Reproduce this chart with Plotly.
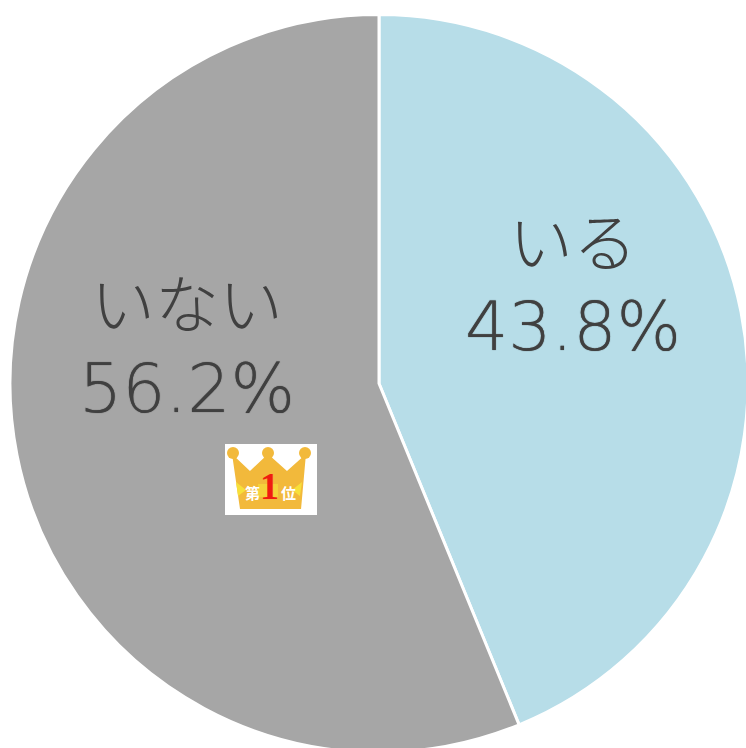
import plotly.graph_objects as go

categories = ["いる", "いない"]
values = [43.8, 56.2]
colors = ["#b7dde8", "#a6a6a6"]
percent_labels = ["43.8%", "56.2%"]
crown_labels = ["第", "1", "位"]

W = H = 760          # canvas is a bit larger than the window: the pie runs off the page
def px(x): return x / W
def py(y): return 1 - y / H

def poly(points, color):
    path = "M " + " L ".join(f"{px(x):.4f},{py(y):.4f}" for x, y in points) + " Z"
    return dict(type="path", xref="paper", yref="paper", path=path,
                fillcolor=color, line=dict(width=0))

def disc(cx, cy, r, color):
    return dict(type="circle", xref="paper", yref="paper",
                x0=px(cx - r), x1=px(cx + r), y0=py(cy + r), y1=py(cy - r),
                fillcolor=color, line=dict(width=0))

fig = go.Figure(go.Pie(
    labels=categories, values=values, sort=False, direction="clockwise", rotation=0,
    marker=dict(colors=colors, line=dict(color="white", width=3)),
    textinfo="none", hoverinfo="label+percent",
    domain=dict(x=[px(10), px(748)], y=[py(753), py(14)]),
))

JP = "Noto Sans CJK JP"
LAT = "DejaVu Sans Light, DejaVu Sans"
TEXT = "#404040"
def note(text, x, y, size, family, color=TEXT, weight="normal", shadow="none"):
    fig.add_annotation(text=text, xref="paper", yref="paper", x=px(x), y=py(y),
                       xanchor="center", yanchor="middle", showarrow=False,
                       font=dict(size=size, family=family, color=color,
                                 weight=weight, shadow=shadow))

HALO = "0 0 1px #404040"
note(categories[0], 573, 238, 64, JP, weight=300)
note(percent_labels[0], 573, 326, 68, LAT, shadow=HALO)
note(categories[1], 187, 300, 64, JP, weight=300)
note(percent_labels[1], 187, 388, 68, LAT, shadow=HALO)

GOLD = "#f2b93b"
fig.update_layout(
    width=W, height=H, margin=dict(l=0, r=0, t=0, b=0),
    showlegend=False, paper_bgcolor="white",
    shapes=[
        dict(type="rect", xref="paper", yref="paper", x0=px(225), x1=px(317),
             y0=py(515), y1=py(444), fillcolor="white", line=dict(width=0)),
        poly([(232, 454), (250, 471), (268, 454), (287, 471), (306, 454),
              (301, 509), (240, 509)], GOLD),
        poly([(236, 482), (246, 490), (238, 496)], "#f7e03a"),
        poly([(302, 482), (292, 490), (300, 496)], "#f7e03a"),
        poly([(258, 484), (278, 484), (278, 497), (258, 497)], "#f5d23a"),
        disc(233, 453, 6, GOLD), disc(268, 453, 6, GOLD), disc(305, 453, 6, GOLD),
    ],
)
note(crown_labels[0], 253, 492, 15, JP, "white", weight="bold")
note(crown_labels[1], 269, 486, 38, "Liberation Sans Narrow", "#f01c10", weight="bold")
note(crown_labels[2], 288, 492, 15, JP, "white", weight="bold")

fig.write_html("out.html", config=dict(displayModeBar=False),
               post_script="document.body.style.margin='0';document.documentElement.style.overflow='hidden';document.body.style.overflow='hidden';")
